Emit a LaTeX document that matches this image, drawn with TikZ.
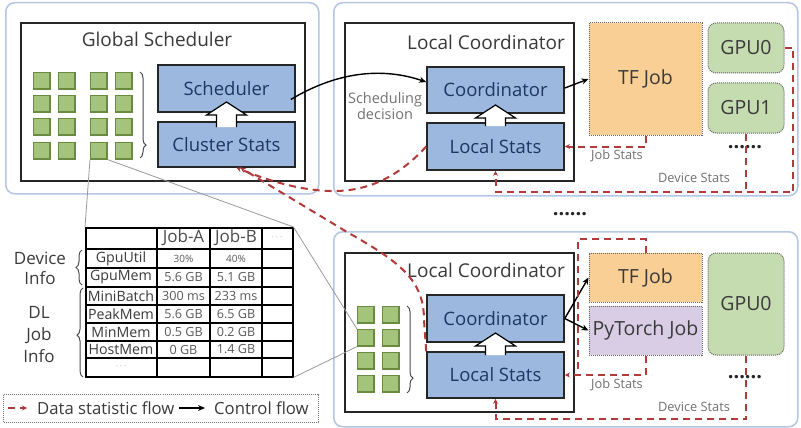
\documentclass[tikz,border=0pt]{standalone}
\usepackage{fontspec}
\setmainfont{Open Sans}
\usetikzlibrary{arrows.meta,decorations.pathreplacing,calc}
\definecolor{outerc}{HTML}{B4C6E4}
\definecolor{bluef}{HTML}{9DB8DF}
\definecolor{navy}{HTML}{1F3760}
\definecolor{redd}{HTML}{B23A3A}
\definecolor{greenf}{HTML}{A3C47A}
\definecolor{greend}{HTML}{6A8A40}
\definecolor{gpuf}{HTML}{C5DBB0}
\definecolor{tff}{HTML}{F9CF95}
\definecolor{ptf}{HTML}{D8CDE5}
\definecolor{txtg}{HTML}{3A3A3A}
\definecolor{lblg}{HTML}{707070}
\newcommand{\myfs}[2]{\fontsize{#1}{#2}\selectfont}
\newcommand{\hollowarrow}[4]{%
  \filldraw[fill=white, draw=black, line width=1.2pt, line join=miter]
   (#1-10,#4) -- (#1-10,#3) -- (#1-20,#3) -- (#1,#2) -- (#1+20,#3) -- (#1+10,#3) -- (#1+10,#4);}
\tikzset{
  outerbox/.style={draw=outerc, line width=1.5pt, rounded corners=9pt, fill=white, inner sep=0pt, anchor=north west},
  framebox/.style={draw=black!85, line width=1.8pt, fill=white, inner sep=0pt, anchor=north west},
  bluebox/.style={draw=black!85, line width=1.6pt, fill=bluef, text=navy, font=\myfs{18.5}{20}, inner sep=0pt},
  jobbox/.style={draw=black!60, densely dotted, line width=1pt, inner sep=0pt, font=\myfs{19.5}{21}, text=txtg},
  gpubox/.style={jobbox, fill=gpuf, rounded corners=8pt},
  sq/.style={draw=greend, fill=greenf, line width=0.6pt, minimum size=17pt, inner sep=0pt, anchor=north west,
    path picture={\draw[greend, line width=2.4pt] (path picture bounding box.north east) -- (path picture bounding box.south east) -- (path picture bounding box.south west);}},
  ctrl/.style={draw=black, line width=1.4pt, -{Stealth[length=7pt,width=6pt]}},
  dataline/.style={draw=redd, line width=2pt, dash pattern=on 7pt off 5pt},
  data/.style={dataline, -{Stealth[length=5pt,width=5pt]}},
  zoomline/.style={draw=black!40, line width=0.8pt},
  brc/.style={decorate, draw=black!70, line width=1pt},
  title/.style={font=\myfs{19}{21}, text=txtg},
  statlbl/.style={font=\myfs{12.8}{14}, text=lblg},
  dots/.style={font=\myfs{20}{22}\bfseries, text=black!85, anchor=base, inner sep=0pt},
  lab/.style={font=\myfs{14.2}{16}, text=txtg, inner sep=0pt},
  val/.style={font=\myfs{12.6}{14}, text=black!65, inner sep=0pt},
  pct/.style={font=\myfs{10}{12}, text=black!65, inner sep=0pt},
  hdr/.style={font=\myfs{17}{19}, text=black!70, inner sep=0pt},
  ell/.style={font=\myfs{9}{10}, text=black!45, inner sep=0pt},
}
\begin{document}
\begin{tikzpicture}[x=1pt,y=-1pt]
\useasboundingbox (0,0) rectangle (801,428);

% ---------------- Global scheduler block ----------------
\node[outerbox, minimum width=313pt, minimum height=191pt] (og) at (5,2) {};
\node[framebox, minimum width=284pt, minimum height=158pt] (gs) at (20,22) {};
\node[title] (gst) at (157,39) {Global Scheduler};
\node[bluebox, minimum width=137pt, minimum height=47pt] (sched) at (226.5,88.5) {Scheduler};
\node[bluebox, minimum width=137pt, minimum height=45pt] (cstats) at (226.5,144.5) {Cluster Stats};
\hollowarrow{226.5}{102}{115}{127}

% ---------------- top local coordinator ----------------
\node[outerbox, minimum width=464pt, minimum height=193pt] (ot) at (333,2) {};
\node[framebox, minimum width=229pt, minimum height=158pt] (lc1) at (344,22) {};
\node[title] (lc1t) at (486,42) {Local Coordinator};
\node[bluebox, minimum width=137pt, minimum height=46pt] (coord1) at (495.5,90) {Coordinator};
\node[bluebox, minimum width=137pt, minimum height=47pt] (lstats1) at (495.5,146.5) {Local Stats};
\hollowarrow{495.5}{105}{118}{126}
\node[align=center, font=\myfs{14.5}{16}, text=black!55] (sd) at (385,106) {Scheduling\\decision};
\node[jobbox, fill=tff, minimum width=113pt, minimum height=112pt] (tf1) at (645.5,79) {TF Job};
\node[gpubox, minimum width=76pt, minimum height=50pt] (gpu0) at (746,48) {GPU0};
\node[gpubox, minimum width=76pt, minimum height=50pt] (gpu1) at (746,108) {GPU1};

% ---------------- bottom local coordinator ----------------
\node[outerbox, minimum width=464pt, minimum height=195pt] (ob) at (333,231) {};
\node[framebox, minimum width=229pt, minimum height=159pt] (lc2) at (344,252) {};
\node[title] (lc2t) at (486,270) {Local Coordinator};
\node[bluebox, minimum width=137pt, minimum height=47pt] (coord2) at (495.5,318.5) {Coordinator};
\node[bluebox, minimum width=137pt, minimum height=46pt] (lstats2) at (495.5,375) {Local Stats};
\hollowarrow{495.5}{333}{346}{355}
\node[jobbox, fill=tff, minimum width=113pt, minimum height=49pt] (tf2) at (645.5,277.5) {TF Job};
\node[jobbox, fill=ptf, minimum width=113pt, minimum height=49pt] (pt2) at (645.5,330.5) {PyTorch Job};
\node[gpubox, minimum width=76pt, minimum height=102pt] (gpub) at (746,304) {GPU0};

% ---------------- table ----------------
\node[draw=black, line width=1.5pt, minimum width=207pt, minimum height=149pt, inner sep=0pt, anchor=north west] (tbl) at (85,227) {};
\foreach \yy in {249,268,287,305,323,341,358} \draw[line width=1.5pt] (85,\yy) -- (292,\yy);
\foreach \xx in {157,210,262} \draw[line width=1.5pt] (\xx,227) -- (\xx,376);

\node[hdr] (h1) at (183.5,238) {Job-A};
\node[hdr] (h2) at (236,238) {Job-B};
\node[ell] (h3) at (277,237) {$\cdots$};
\node[lab] (r1) at (121,258.5) {GpuUtil};
\node[pct] (r1a) at (183.5,258.5) {30\%};
\node[pct] (r1b) at (236,258.5) {40\%};
\node[lab] (r2) at (121,277.5) {GpuMem};
\node[val] (r2a) at (183.5,277.5) {5.6 GB};
\node[val] (r2b) at (236,277.5) {5.1 GB};
\node[lab] (r3) at (121,296) {MiniBatch};
\node[val] (r3a) at (183.5,296) {300 ms};
\node[val] (r3b) at (236,296) {233 ms};
\node[lab] (r4) at (121,314) {PeakMem};
\node[val] (r4a) at (183.5,314) {5.6 GB};
\node[val] (r4b) at (236,314) {6.5 GB};
\node[lab] (r5) at (121,332) {MinMem};
\node[val] (r5a) at (183.5,332) {0.5 GB};
\node[val] (r5b) at (236,332) {0.2 GB};
\node[lab] (r6) at (121,349.5) {HostMem};
\node[val] (r6a) at (183.5,349.5) {0 GB};
\node[val] (r6b) at (236,349.5) {1.4 GB};
\node[ell] (r7) at (121,366) {$\cdots$};

\node[align=center, font=\myfs{17}{20}, text=txtg] (dev) at (40,268) {Device\\Info};
\node[align=center, font=\myfs{17}{22}, text=txtg] (dlj) at (39,335) {DL\\Job\\Info};
\draw[brc, decoration={brace, amplitude=6pt, aspect=0.5}] (82,285) -- (82,250);
\draw[brc, decoration={brace, amplitude=6pt, aspect=0.47}] (83,377) -- (83,288);

% ---------------- squares & zoom lines ----------------
\foreach \r/\yy in {1/72,2/95,3/118,4/142}
  \foreach \c/\xx in {1/33,2/58,3/90,4/115}
    \node[sq] (g-\r-\c) at (\xx,\yy) {};
\foreach \r/\yy in {1/306,2/329,3/352,4/375}
  \foreach \c/\xx in {1/357,2/382}
    \node[sq] (b-\r-\c) at (\xx,\yy) {};
\draw[zoomline] (g-4-3.south west) -- (tbl.north west);
\draw[zoomline] (g-4-3.south east) -- (tbl.north east);
\draw[zoomline] (tbl.north east) -- (b-2-1.north west);
\draw[zoomline] (tbl.south east) -- (b-2-1.south west);
\draw[brc, decoration={brace, amplitude=6pt, aspect=0.85}] (140,72) -- (140,158);
\draw[brc, decoration={brace, amplitude=6pt, aspect=0.83}] (407,306) -- (407,393);

% ---------------- dots ----------------
\node[dots] (dm) at (570,215) {......};
\node[dots] (dt) at (745,148) {......};
\node[dots] (db) at (745,378) {......};

% ---------------- control flow ----------------
\draw[ctrl] ($(sched.east)+(-5,11)$) .. controls (340,70) and (385,68) .. ($(coord1.west)+(0,-8)$);
\draw[ctrl] ($(coord1.east)+(0,-2)$) -- (tf1.west);
\draw[ctrl] (coord2.east) -- (tf2.west);
\draw[ctrl] (coord2.east) -- (pt2.west);

% ---------------- data flow ----------------
\draw[data] (tf1.south) |- (lstats1.east);
\node[statlbl] (js1) at (617,156) {Job Stats};
\coordinate (dr1) at (793,192);
\draw[data] (gpu0.east) -| (dr1) -| (lstats1.south);
\draw[dataline] (gpu1.south) -- (gpu1.south |- dr1);
\node[statlbl] (ds1) at (694,178) {Device Stats};

\draw[data] (lstats1.west) .. controls (400,175) and (370,192) .. (330,191) .. controls (295,190) and (262,178) .. ($(cstats.south)+(10,0)$);
\draw[data] (lstats2.north west) -- (424,320) .. controls (424,280) and (400,262) .. (347,232) -- ($(cstats.south)+(14,0)$);

\draw[data] (pt2.south) |- (lstats2.east);
\coordinate (jl) at (578,239);
\draw[dataline] (tf2.north) |- (jl) -- (jl |- lstats2.east);
\node[statlbl] (js2) at (617,385) {Job Stats};
\coordinate (dr2) at (746,419);
\draw[data] (gpub.south) -- (dr2) -| (lstats2.south);
\node[statlbl] (ds2) at (694,407) {Device Stats};

% ---------------- legend ----------------
\node[draw=black!55, densely dotted, line width=1pt, minimum width=315pt, minimum height=28pt, inner sep=0pt, anchor=north west] (leg) at (3,394) {};
\coordinate (l1) at (8,408);
\coordinate (l2) at (27,408);
\draw[data] (l1) -- (l2);
\node[font=\myfs{16.7}{18}, text=txtg, anchor=west, inner sep=0pt] (lt1) at (37,408) {Data statistic flow};
\coordinate (l3) at (179,408);
\coordinate (l4) at (205,408);
\draw[ctrl] (l3) -- (l4);
\node[font=\myfs{16.7}{18}, text=txtg, anchor=west, inner sep=0pt] (lt2) at (214,408) {Control flow};
\end{tikzpicture}
\end{document}
